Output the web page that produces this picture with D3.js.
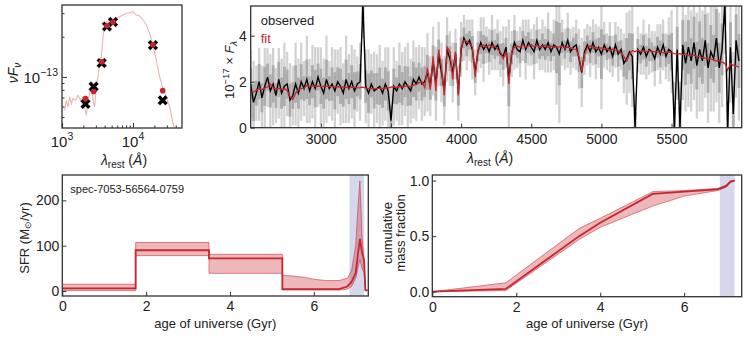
<!DOCTYPE html>
<html>
<head>
<meta charset="utf-8">
<script src="https://cdn.jsdelivr.net/npm/d3@7"></script>
<style>
  body { margin: 0; background: #fff; }
  svg text { font-family: "Liberation Sans", Arial, sans-serif; fill: #222; }
</style>
</head>
<body>
<svg id="fig" width="748" height="337"></svg>
<script>
// ---------- SED (photometry) ----------
const sedWave = [2140, 2790, 3620, 4300, 5230, 19100, 26200];
const sedObs = [6.27e-14, 8.46e-14, 1.27e-13, 2.39e-13, 2.58e-13, 1.73e-13, 6.68e-14];
const sedFitPhot = [6.87e-14, 7.76e-14, 1.30e-13, 2.42e-13, 2.58e-13, 1.74e-13, 7.89e-14];
const sedModelWave = [1090, 1151, 1215, 1282, 1354, 1429, 1558, 1680, 1812, 1976, 2085, 2202, 2323, 2453, 2588,
  2733, 2884, 3045, 3214, 3393, 3581, 3780, 3990, 4212, 4690, 5225, 5821, 6486, 7227, 8053, 8974, 10000,
  11140, 12410, 13830, 15410, 17170, 19130, 21310, 23750, 26460, 29480, 32850, 36600, 38640];
const sedModelFlux = [5.61e-14, 6.68e-14, 5.95e-14, 7.07e-14, 6.30e-14, 6.87e-14, 6.68e-14, 7.28e-14, 6.68e-14,
  7.07e-14, 5.95e-14, 5.15e-14, 6.68e-14, 7.49e-14, 8.91e-14, 6.68e-14, 5.95e-14, 8.91e-14, 1.0e-13, 1.26e-13,
  1.41e-13, 2.0e-13, 2.38e-13, 2.59e-13, 2.67e-13, 2.59e-13, 2.75e-13, 2.83e-13, 2.91e-13, 2.99e-13, 3.03e-13,
  3.08e-13, 2.91e-13, 2.86e-13, 2.67e-13, 2.45e-13, 2.12e-13, 1.73e-13, 1.33e-13, 1.0e-13, 8.17e-14, 7.07e-14,
  5.95e-14, 4.46e-14, 4.09e-14];
const sedXMajor = [1e3, 1e4];
const sedYMajor = [1e-13];

// ---------- spectrum (20 A sampling from 2500 A) ----------
const specStart = 2500, specStep = 20;
const specObs = [
  1.90,1.10,1.50,2.00,1.30,1.80,2.20,1.60,1.90,1.40,
  2.10,1.50,1.80,1.90,1.20,1.40,1.90,1.50,2.00,1.70,
  2.10,1.60,2.00,1.70,2.20,1.80,1.50,2.10,1.70,1.90,
  1.60,2.00,1.80,1.50,2.10,1.70,2.00,1.60,1.90,2.00,
  5.40,1.80,1.50,1.90,1.60,1.70,1.80,1.50,1.90,1.60,
  0.30,1.80,1.60,1.90,1.70,2.00,1.80,1.60,2.10,1.90,
  2.20,1.90,2.00,2.40,1.80,2.90,1.90,3.20,2.40,1.60,
  3.40,3.00,2.40,3.20,1.50,3.40,3.90,3.60,3.80,3.40,
  2.40,3.30,3.70,3.40,3.60,3.30,3.70,3.40,3.60,3.20,
  3.10,3.50,2.10,3.20,3.70,3.40,3.30,3.80,3.40,3.70,
  3.50,3.30,3.80,3.40,3.60,3.40,3.70,3.30,3.60,3.50,
  3.20,3.70,3.40,3.80,3.30,3.50,3.60,3.00,2.40,3.30,
  3.60,3.30,3.70,3.30,3.50,3.20,3.60,3.30,3.50,3.10,
  3.60,3.20,3.40,2.80,3.00,3.30,3.10,0.00,3.40,3.20,
  3.50,3.10,3.40,3.30,3.00,3.50,3.20,3.60,3.10,3.40,
  3.30,0.00,3.40,0.00,3.60,2.80,3.50,2.90,3.70,2.70,
  3.40,2.90,3.80,2.60,3.30,3.00,3.90,2.60,3.40,5.40,
  0.00,3.50,0.60,3.80,2.90];
const specErr = [
  1.5,1.8,1.2,1.7,1.4,1.9,1.3,1.6,1.8,1.2,
  1.7,1.5,1.9,1.4,1.6,1.3,1.8,1.5,1.7,1.2,
  1.9,1.4,1.6,1.8,1.3,1.7,1.5,1.9,1.2,1.6,
  1.8,1.4,1.7,1.3,1.9,1.5,1.6,1.8,1.2,1.7,
  1.5,1.6,1.9,1.3,1.7,1.5,1.8,1.4,1.6,1.9,
  1.5,1.7,1.3,1.8,1.6,1.5,1.9,1.4,1.7,1.6,
  1.4,1.6,1.5,1.7,1.3,1.5,1.6,1.4,1.3,1.5,
  1.4,1.2,1.3,1.1,1.2,1.2,1.0,1.1,0.9,1.3,
  1.0,0.9,1.1,1.4,0.8,1.0,1.2,0.9,1.1,1.0,
  1.3,0.9,2.6,1.0,1.2,0.8,1.1,0.9,1.3,1.0,
  0.8,1.2,1.0,0.9,1.1,1.0,1.3,0.9,1.1,2.5,
  3.0,1.0,0.9,1.2,1.0,0.9,1.1,1.3,1.5,1.0,
  0.9,1.1,1.0,1.2,0.9,2.4,1.0,0.8,1.1,0.9,
  1.0,1.2,0.9,1.3,2.0,1.8,2.2,1.5,1.0,0.9,
  1.2,1.0,1.1,0.9,1.2,1.0,1.3,1.1,1.0,1.4,
  1.8,2.0,2.2,2.0,2.4,2.1,2.6,2.2,2.5,2.3,
  2.7,2.2,2.5,2.4,2.6,2.3,2.8,2.4,2.5,2.2,
  2.6,2.4,2.7,2.5,2.6];
const specFit = [
  1.58,1.55,1.62,1.70,1.66,1.72,1.78,1.90,1.74,1.68,
  1.72,1.65,1.70,1.62,1.35,1.22,1.50,1.66,1.70,1.72,
  1.84,1.80,1.82,1.80,1.81,1.80,1.79,1.80,1.81,1.79,
  1.80,1.78,1.76,1.77,1.75,1.72,1.76,1.75,1.73,1.74,
  1.76,1.72,1.70,1.71,1.69,1.70,1.72,1.71,1.73,1.72,
  1.76,1.78,1.75,1.80,1.77,1.80,1.82,1.78,1.85,1.88,
  1.95,2.00,1.75,2.60,1.65,3.10,1.60,3.40,2.60,1.40,
  3.50,3.30,2.10,3.30,1.40,3.50,3.80,3.75,3.65,3.50,
  2.20,3.40,3.55,3.60,3.50,3.60,3.50,3.55,3.40,3.30,
  3.00,3.30,1.90,3.30,3.50,3.55,3.50,3.60,3.50,3.55,
  3.62,3.52,3.58,3.50,3.55,3.60,3.50,3.55,3.48,3.52,
  3.50,3.55,3.45,3.50,3.48,3.42,3.40,3.10,2.45,3.20,
  3.50,3.55,3.45,3.50,3.42,3.48,3.40,3.45,3.35,3.42,
  3.38,3.35,3.25,3.10,2.90,3.20,3.35,3.30,3.38,3.30,
  3.35,3.30,3.36,3.28,3.32,3.30,3.28,3.25,3.28,3.30,
  3.25,3.22,3.20,3.22,3.18,3.20,3.15,3.12,3.15,3.10,
  3.08,3.05,3.02,3.00,2.98,2.95,2.90,2.92,2.85,2.80,
  2.50,2.78,2.72,2.68,2.63];
const specXTicks = [3000, 3500, 4000, 4500, 5000, 5500];
const specYTicks = [0, 2, 4];

// ---------- star formation history ----------
const objectName = 'spec-7053-56564-0759';
const recentSpan = [6.85, 7.2];
const sfrAge = [0, 1.75, 1.75, 3.5, 3.5, 5.25, 5.25, 5.5, 5.8, 6.0, 6.3, 6.6, 6.8, 6.9, 7.0, 7.05, 7.1, 7.15, 7.2, 7.23, 7.28];
const sfrMed = [6, 6, 90, 90, 72, 72, 4, 4, 4, 4, 4, 4, 10, 20, 40, 80, 115, 85, 68, 2, 2];
const sfrLo = [1, 1, 78, 78, 39, 39, 2, 2, 2, 2, 2, 2, 4, 10, 28, 50, 70, 50, 40, 0, 0];
const sfrHi = [15, 15, 107, 107, 81, 81, 35, 33, 30, 26, 23, 23, 28, 45, 100, 180, 243, 120, 70, 2, 2];
const massAge = [0, 1.75, 3.5, 4.0, 5.25, 6.0, 6.8, 7.0, 7.1, 7.2];
const massMed = [0, 0.025, 0.5, 0.62, 0.88, 0.9, 0.92, 0.95, 0.99, 1.0];
const massLo = [0, 0.01, 0.47, 0.58, 0.77, 0.86, 0.91, 0.94, 0.98, 1.0];
const massHi = [0, 0.08, 0.57, 0.66, 0.9, 0.91, 0.93, 0.96, 0.995, 1.0];
const ageTicks = [0, 2, 4, 6];
const sfrTicks = [0, 100, 200];
const massTicks = [0, 0.5, 1.0];

const svg = d3.select('#fig');
const frameColor = '#333';
const red = '#c8262e';

function addFrame(g, w, h) {
  g.append('rect').attr('width', w).attr('height', h)
    .attr('fill', 'none').attr('stroke', frameColor).attr('stroke-width', 1.3);
}
function tidy(axisG, size) {
  axisG.attr('font-size', size).attr('font-family', null);
  axisG.select('.domain').remove();
  axisG.selectAll('.tick line').attr('stroke', frameColor);
}
function vlabel(g, x, y, size) {
  return g.append('text')
    .attr('transform', `translate(${x},${y}) rotate(-90)`)
    .attr('text-anchor', 'middle')
    .attr('font-size', size);
}
function lambdaLabel(g, x, y) {
  const t = g.append('text').attr('x', x).attr('y', y).attr('text-anchor', 'middle').attr('font-size', 14);
  t.append('tspan').attr('font-style', 'italic').text('λ');
  t.append('tspan').attr('font-size', 10).attr('dy', 3).text('rest');
  t.append('tspan').attr('dy', -3).text(' (');
  t.append('tspan').attr('font-style', 'italic').text('Å');
  t.append('tspan').text(')');
}

// ================= SED panel =================
const sedW = 120, sedH = 123;
const sed = svg.append('g').attr('transform', 'translate(62,5)');
const sedX = d3.scaleLog().domain([1000, 49000]).range([0, sedW]);
const sedY = d3.scaleLog().domain([4.14e-14, 3.46e-13]).range([sedH, 0]);

sed.append('clipPath').attr('id', 'clip-sed')
  .append('rect').attr('width', sedW).attr('height', sedH);

sed.append('path')
  .datum(d3.zip(sedModelWave, sedModelFlux))
  .attr('clip-path', 'url(#clip-sed)')
  .attr('fill', 'none')
  .attr('stroke', '#eeb3b3')
  .attr('stroke-width', 1.1)
  .attr('d', d3.line().x(d => sedX(d[0])).y(d => sedY(d[1])));

sed.selectAll('.obs-x')
  .data(d3.zip(sedWave, sedObs))
  .enter()
  .append('path')
  .attr('class', 'obs-x')
  .attr('d', d3.symbol(d3.symbolCross).size(70))
  .attr('transform', d => `translate(${sedX(d[0])},${sedY(d[1])}) rotate(45)`)
  .attr('fill', '#000')
  .attr('stroke', '#fff')
  .attr('stroke-width', 0.4);

sed.selectAll('.fit-dot')
  .data(d3.zip(sedWave, sedFitPhot))
  .enter()
  .append('circle')
  .attr('class', 'fit-dot')
  .attr('cx', d => sedX(d[0]))
  .attr('cy', d => sedY(d[1]))
  .attr('r', 2.8)
  .attr('fill', red);

const isMajor = (v, list) => list.some(m => Math.abs(v / m - 1) < 1e-6);
const sedXMinor = sedX.ticks().filter(v => !isMajor(v, sedXMajor));
const sedYMinor = sedY.ticks().filter(v => !isMajor(v, sedYMajor));

[[sedXMinor, -2.5], [sedXMajor, -5]].forEach(([vals, len]) => {
  const ax = sed.append('g').attr('transform', `translate(0,${sedH})`)
    .call(d3.axisBottom(sedX).tickValues(vals).tickSize(len).tickFormat(''));
  tidy(ax, 14);
});
[[sedYMinor, -2.5], [sedYMajor, -5]].forEach(([vals, len]) => {
  const ax = sed.append('g')
    .call(d3.axisLeft(sedY).tickValues(vals).tickSize(len).tickFormat(''));
  tidy(ax, 14);
});
addFrame(sed, sedW, sedH);

sedXMajor.forEach(v => {
  const t = sed.append('text').attr('x', sedX(v)).attr('y', sedH + 19)
    .attr('text-anchor', 'middle').attr('font-size', 15);
  t.append('tspan').text('10');
  t.append('tspan').attr('font-size', 10.5).attr('dy', -7).text(Math.round(Math.log10(v)));
});
sedYMajor.forEach(v => {
  const t = sed.append('text').attr('x', -4).attr('y', sedY(v) + 6)
    .attr('text-anchor', 'end').attr('font-size', 15);
  t.append('tspan').text('10');
  t.append('tspan').attr('font-size', 10.5).attr('dy', -7).text('−' + Math.round(-Math.log10(v)));
});

const nuLab = vlabel(sed, -44, 68, 14);
nuLab.append('tspan').attr('font-style', 'italic').text('νF');
nuLab.append('tspan').attr('font-style', 'italic').attr('font-size', 10).attr('dy', 3).text('ν');
lambdaLabel(sed, 62, 160);

// ================= spectrum panel =================
const spW = 491, spH = 121.7;
const sp = svg.append('g').attr('transform', 'translate(250.7,6)');
const spX = d3.scaleLinear().domain([2500, 6000]).range([0, spW]);
const spY = d3.scaleLinear().domain([0, 5.29]).range([spH, 0]);
const specRows = specObs.map((f, i) => ({
  lam: specStart + i * specStep, obs: f, err: specErr[i], fit: specFit[i]
}));

sp.append('clipPath').attr('id', 'clip-sp')
  .append('rect').attr('width', spW).attr('height', spH);
const spData = sp.append('g').attr('clip-path', 'url(#clip-sp)');
const binW = spX(specStart + specStep) - spX(specStart);

spData.selectAll('.err-outer')
  .data(specRows)
  .enter()
  .append('rect')
  .attr('class', 'err-outer')
  .attr('x', d => spX(d.lam) - binW * 0.4)
  .attr('width', binW * 0.8)
  .attr('y', d => spY(d.obs + d.err))
  .attr('height', d => spY(d.obs - d.err) - spY(d.obs + d.err))
  .attr('fill', '#d2d2d2');

spData.selectAll('.err-inner')
  .data(specRows)
  .enter()
  .append('rect')
  .attr('class', 'err-inner')
  .attr('x', d => spX(d.lam) - binW * 0.5)
  .attr('width', binW)
  .attr('y', d => spY(d.obs + d.err * 0.45))
  .attr('height', d => spY(d.obs - d.err * 0.45) - spY(d.obs + d.err * 0.45))
  .attr('fill', '#acacac');

spData.append('path')
  .datum(specRows)
  .attr('fill', 'none')
  .attr('stroke', '#000')
  .attr('stroke-width', 1.4)
  .attr('d', d3.line().x(d => spX(d.lam)).y(d => spY(d.obs)));

spData.append('path')
  .datum(specRows)
  .attr('fill', 'none')
  .attr('stroke', red)
  .attr('stroke-width', 1.3)
  .attr('d', d3.line().x(d => spX(d.lam)).y(d => spY(d.fit)));

const spXAxis = sp.append('g').attr('transform', `translate(0,${spH})`)
  .call(d3.axisBottom(spX).tickValues(specXTicks).tickSize(-4).tickPadding(6).tickFormat(d3.format('d')));
tidy(spXAxis, 14);
const spYAxis = sp.append('g')
  .call(d3.axisLeft(spY).tickValues(specYTicks).tickSize(-4).tickPadding(4).tickFormat(d3.format('d')));
tidy(spYAxis, 14);

// legend
sp.append('rect').attr('x', 5).attr('y', 3).attr('width', 27).attr('height', 39).attr('fill', '#fff');
sp.append('rect').attr('x', 5).attr('y', 3).attr('width', 63).attr('height', 20).attr('fill', '#fff');
sp.append('text').attr('x', 10).attr('y', 19).attr('font-size', 13).text('observed');
sp.append('text').attr('x', 10).attr('y', 37).attr('font-size', 13).style('fill', red).text('fit');
addFrame(sp, spW, spH);

const fLab = vlabel(sp, -17, 64, 13);
fLab.append('tspan').text('10');
fLab.append('tspan').attr('font-size', 9.5).attr('dy', -5).text('−17');
fLab.append('tspan').attr('dy', 5).text(' × ');
fLab.append('tspan').attr('font-style', 'italic').text('F');
fLab.append('tspan').attr('font-style', 'italic').attr('font-size', 9.5).attr('dy', 3).text('λ');
lambdaLabel(sp, spW / 2 - 6, 157);

// ================= SFR panel =================
const sfW = 306, sfH = 121;
const sf = svg.append('g').attr('transform', 'translate(62.3,175)');
const sfX = d3.scaleLinear().domain([0, 7.3]).range([0, sfW]);
const sfY = d3.scaleLinear().domain([-11, 256]).range([sfH, 0]);
const sfrRows = sfrAge.map((a, i) => ({ age: a, med: sfrMed[i], lo: sfrLo[i], hi: sfrHi[i] }));

sf.append('rect')
  .attr('x', sfX(recentSpan[0])).attr('width', sfX(recentSpan[1]) - sfX(recentSpan[0]))
  .attr('y', 0).attr('height', sfH)
  .attr('fill', '#7d85c6').attr('opacity', 0.32);

sf.append('path').datum(sfrRows)
  .attr('fill', red).attr('opacity', 0.33)
  .attr('d', d3.area().x(d => sfX(d.age)).y0(d => sfY(d.lo)).y1(d => sfY(d.hi)));
['lo', 'hi'].forEach(k => {
  sf.append('path').datum(sfrRows)
    .attr('fill', 'none').attr('stroke', red).attr('stroke-width', 0.9).attr('opacity', 0.6)
    .attr('d', d3.line().x(d => sfX(d.age)).y(d => sfY(d[k])));
});
sf.append('path').datum(sfrRows)
  .attr('fill', 'none').attr('stroke', red).attr('stroke-width', 1.8)
  .attr('d', d3.line().x(d => sfX(d.age)).y(d => sfY(d.med)));

const sfXAxis = sf.append('g').attr('transform', `translate(0,${sfH})`)
  .call(d3.axisBottom(sfX).tickValues(ageTicks).tickSize(-4).tickPadding(5));
tidy(sfXAxis, 14);
const sfYAxis = sf.append('g')
  .call(d3.axisLeft(sfY).tickValues(sfrTicks).tickSize(-4).tickPadding(3));
tidy(sfYAxis, 14);
addFrame(sf, sfW, sfH);

sf.append('text').attr('x', 8).attr('y', 18).attr('font-size', 11).text(objectName);
const sfrLab = vlabel(sf, -33, 63, 13);
sfrLab.append('tspan').text('SFR (M');
sfrLab.append('tspan').attr('font-size', 9).attr('dy', 2).text('⊙');
sfrLab.append('tspan').attr('dy', -2).text('/yr)');
sf.append('text').attr('x', sfW / 2).attr('y', 152.5).attr('text-anchor', 'middle')
  .attr('font-size', 13).text('age of universe (Gyr)');

// ================= cumulative mass panel =================
const cmW = 309.4, cmH = 121.7;
const cm = svg.append('g').attr('transform', 'translate(432.3,175)');
const cmX = d3.scaleLinear().domain([0, 7.37]).range([0, cmW]);
const cmY = d3.scaleLinear().domain([-0.045, 1.05]).range([cmH, 0]);
const massRows = massAge.map((a, i) => ({ age: a, med: massMed[i], lo: massLo[i], hi: massHi[i] }));

cm.append('rect')
  .attr('x', cmX(recentSpan[0])).attr('width', cmX(recentSpan[1]) - cmX(recentSpan[0]))
  .attr('y', 0).attr('height', cmH)
  .attr('fill', '#7d85c6').attr('opacity', 0.32);

cm.append('path').datum(massRows)
  .attr('fill', red).attr('opacity', 0.33)
  .attr('d', d3.area().x(d => cmX(d.age)).y0(d => cmY(d.lo)).y1(d => cmY(d.hi)));
['lo', 'hi'].forEach(k => {
  cm.append('path').datum(massRows)
    .attr('fill', 'none').attr('stroke', red).attr('stroke-width', 0.9).attr('opacity', 0.6)
    .attr('d', d3.line().x(d => cmX(d.age)).y(d => cmY(d[k])));
});
cm.append('path').datum(massRows)
  .attr('fill', 'none').attr('stroke', red).attr('stroke-width', 1.8)
  .attr('d', d3.line().x(d => cmX(d.age)).y(d => cmY(d.med)));

const cmXAxis = cm.append('g').attr('transform', `translate(0,${cmH})`)
  .call(d3.axisBottom(cmX).tickValues(ageTicks).tickSize(-4).tickPadding(5));
tidy(cmXAxis, 14);
const cmYAxis = cm.append('g')
  .call(d3.axisLeft(cmY).tickValues(massTicks).tickSize(-4).tickPadding(3).tickFormat(d3.format('.1f')));
tidy(cmYAxis, 14);
addFrame(cm, cmW, cmH);

vlabel(cm, -40, 58, 13).text('cumulative');
vlabel(cm, -27, 58, 13).text('mass fraction');
cm.append('text').attr('x', cmW / 2).attr('y', 152.5).attr('text-anchor', 'middle')
  .attr('font-size', 13).text('age of universe (Gyr)');
</script>
</body>
</html>
